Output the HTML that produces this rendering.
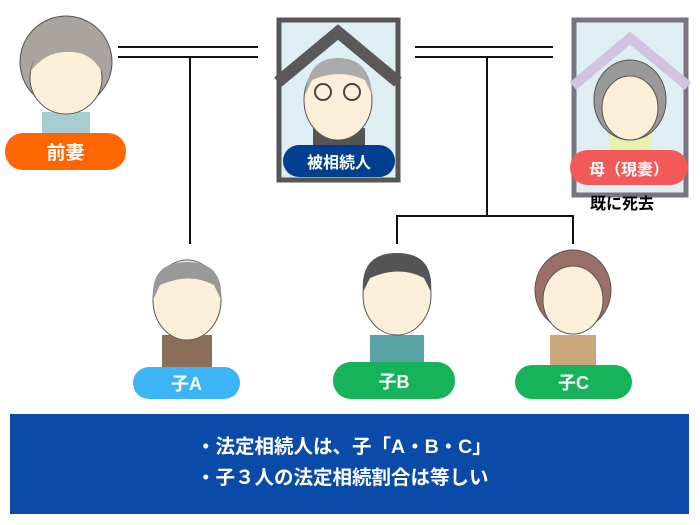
<!DOCTYPE html><html><head><meta charset="utf-8"><style>
body{margin:0;width:700px;height:525px;background:#fff;position:relative;overflow:hidden;font-family:"Liberation Sans","Noto Sans CJK JP",sans-serif}
.p{position:absolute;color:#fff;font-weight:bold;display:flex;align-items:center;justify-content:center;border-radius:18px;font-size:18px}
svg{position:absolute;left:0;top:0}
</style></head><body>
<svg width="700" height="525">
<g stroke="#111" stroke-width="2" fill="none">
<line x1="118" y1="47" x2="258" y2="47"/><line x1="118" y1="57" x2="258" y2="57"/>
<line x1="415" y1="47" x2="553" y2="47"/><line x1="415" y1="57" x2="553" y2="57"/>
<line x1="190" y1="57" x2="190" y2="244"/>
<line x1="487" y1="57" x2="487" y2="216"/>
<polyline points="397,244 397,216 573,216 573,244"/>
</g>
<!-- ex-wife -->
<rect x="42" y="112" width="48" height="24" fill="#a8cccf"/>
<ellipse cx="66" cy="62" rx="46" ry="46" fill="#a9a49d" stroke="#555"/>
<ellipse cx="66" cy="78" rx="36" ry="36" fill="#fbefd9" stroke="#555"/>
<path d="M30 72 Q40 36 66 38 Q95 36 102 72 Q90 50 66 52 Q45 52 30 72Z" fill="#a9a49d"/>
<!-- deceased frame -->
<rect x="279" y="20" width="119" height="160" fill="#dfeef2" stroke="#555" stroke-width="5"/>
<path d="M278 82 L338 32 L398 82" stroke="#5a5858" stroke-width="12" fill="none"/>
<rect x="313" y="128" width="52" height="30" fill="#555"/>
<ellipse cx="338" cy="100" rx="34" ry="40" fill="#fbefd9" stroke="#555"/>
<path d="M305 95 Q308 58 338 58 Q370 58 372 95 L365 80 Q340 68 312 80Z" fill="#aaa"/>
<circle cx="323" cy="92" r="8" fill="none" stroke="#444" stroke-width="2"/><circle cx="352" cy="92" r="8" fill="none" stroke="#444" stroke-width="2"/>
<!-- mother frame -->
<rect x="574" y="20" width="112" height="175" fill="#dfeef2" stroke="#7a7380" stroke-width="5"/>
<path d="M573 86 L630 38 L688 86" stroke="#cfc3e0" stroke-width="10" fill="none"/>
<rect x="610" y="130" width="42" height="24" fill="#e8f0b0"/>
<ellipse cx="630" cy="100" rx="36" ry="40" fill="#999" stroke="#555"/>
<ellipse cx="630" cy="108" rx="28" ry="32" fill="#fbefd9" stroke="#555"/>
<!-- children -->
<rect x="162" y="335" width="50" height="32" fill="#8a6e5a"/>
<ellipse cx="187" cy="300" rx="34" ry="40" fill="#fbefd9" stroke="#555"/>
<path d="M153 300 Q150 262 187 262 Q224 262 221 300 L214 285 Q190 272 160 285Z" fill="#999"/>
<rect x="370" y="335" width="54" height="30" fill="#5aa4a8"/>
<ellipse cx="397" cy="295" rx="34" ry="40" fill="#fbefd9" stroke="#555"/>
<path d="M363 292 Q360 253 397 253 Q434 253 431 292 L424 278 Q400 265 370 278Z" fill="#555"/>
<rect x="550" y="335" width="46" height="30" fill="#c9a77a"/>
<ellipse cx="573" cy="290" rx="38" ry="40" fill="#9a6f66" stroke="#555"/>
<ellipse cx="573" cy="300" rx="30" ry="34" fill="#fbefd9" stroke="#555"/>
<rect x="10" y="414" width="679" height="100" fill="#0a4aa8"/>
</svg>
<div class="p" style="left:5px;top:133px;width:121px;height:37px;background:#ff6600;font-size:19px">前妻</div>
<div class="p" style="left:283px;top:145px;width:112px;height:32px;background:#003f8f;font-size:16px">被相続人</div>
<div class="p" style="left:570px;top:150px;width:118px;height:35px;background:#f25a5a;font-size:16px">母（現妻）</div>
<div style="position:absolute;left:590px;top:190px;font-weight:bold;font-size:16px">既に死去</div>
<div class="p" style="left:133px;top:367px;width:107px;height:32px;background:#3bb5f5">子A</div>
<div class="p" style="left:333px;top:362px;width:122px;height:37px;background:#16b35a">子B</div>
<div class="p" style="left:515px;top:365px;width:117px;height:34px;background:#16b35a">子C</div>
<div style="position:absolute;left:196px;top:432px;color:#fff;font-weight:bold;font-size:19.5px;line-height:31px">・法定相続人は、子「A・B・C」<br>・子３人の法定相続割合は等しい</div>
</body></html>
